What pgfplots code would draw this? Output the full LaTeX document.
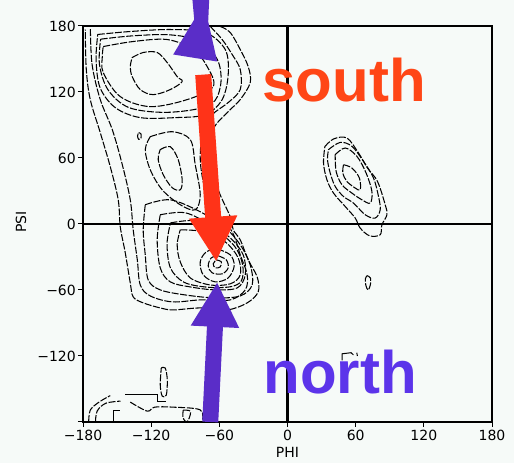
\documentclass[border=0pt]{standalone}
\usepackage{pgfplots}
\pgfplotsset{compat=1.18}
\usepackage{fontspec}
\setmainfont{Liberation Sans}
\newfontfamily\dejavu{DejaVu Sans}
\usetikzlibrary{arrows.meta}
\definecolor{bg}{RGB}{246,250,248}
\definecolor{southred}{RGB}{255,70,22}
\definecolor{arrowred}{RGB}{255,51,24}
\definecolor{northpurple}{RGB}{92,52,234}
\definecolor{arrowpurple}{RGB}{90,45,200}
\pgfplotsset{cont/.style={black, line width=1.05pt, dash pattern=on 7pt off 1.6pt, smooth, tension=0.55, mark=none}}
\begin{document}
\begin{tikzpicture}
\useasboundingbox (0pt,0pt) rectangle (514pt,463pt);
\fill[bg] (0pt,0pt) rectangle (514pt,463pt);
\begin{axis}[
  at={(83pt,41pt)}, anchor=south west, scale only axis,
  width=409pt, height=396pt,
  xmin=-180, xmax=180, ymin=-180, ymax=180,
  xtick={-180,-120,-60,0,60,120,180},
  xticklabels={−180,−120,−60,0,60,120,180},
  ytick={-180,-120,-60,0,60,120,180},
  yticklabels={,−120,−60,0,60,120,180},
  xtick pos=lower, ytick pos=left,
  tick align=outside, major tick length=5pt,
  tick style={black, line width=1pt},
  axis line style={line width=1.5pt},
  ticklabel style={font=\dejavu\fontsize{14}{14}\selectfont},
  xticklabel style={inner sep=1pt, yshift=-1.5pt},
  yticklabel style={inner sep=1pt, xshift=-1pt},
  xlabel={PHI}, ylabel={PSI},
  label style={font=\dejavu\fontsize{14}{14}\selectfont},
  xlabel style={at={(axis description cs:0.5,-0.078)}, anchor=center},
  ylabel style={at={(axis description cs:-0.1516,0.505)}, anchor=center},
  clip=false, axis background/.style={fill=bg},
]
% ---- left region, outer contours
\addplot[cont] coordinates {(-59.2,179.6) (-50.4,174.1) (-41.6,158.6) (-34.6,143.1) (-32.8,128.6) (-41.6,113.1) (-53.1,101.2) (-65.4,85.7) (-65.4,61.2) (-61.9,33.9) (-50.4,6.6) (-47.8,-5.3) (-41.6,-14.4) (-34.6,-32.6) (-26.7,-48.1) (-25.8,-61.7) (-35.5,-71.7) (-53.1,-78.1) (-76.8,-76.3) (-100.6,-78.1) (-112,-76.3) (-127,-71.7) (-135.8,-66.3) (-138.4,-53.5) (-142.8,-26.2) (-147.2,-2.5) (-149,22) (-156,52.1) (-164.8,83) (-173.6,113.1) (-177.1,140.4) (-178,176.8)};
\addplot[cont] coordinates {(-68,179.6) (-57.5,167.7) (-48.7,154.1) (-41.6,140.4) (-41.6,122.2) (-52.2,110.4) (-66.3,99.4) (-74.2,85.7) (-76.8,58.5) (-72.4,31.1) (-63.6,12.9) (-48.7,-7.1) (-41.6,-28) (-35.5,-46.3) (-37.2,-59.9) (-50.4,-69) (-76.8,-69) (-101.5,-70.8) (-120.8,-65.4) (-129.6,-55.4) (-132.2,-32.6) (-135.8,-5.3) (-138.4,22) (-145.4,53.9) (-154.2,85.7) (-164.8,113.1) (-172,145) (-173.5,178.6)};
% ---- beta region
\addplot[cont] coordinates {(-167,172.3) (-138.4,175) (-103.2,176.8) (-72.4,174.1) (-54.8,158.6) (-52.2,135.8) (-57.5,113.1) (-72.4,99.4) (-98.8,96.7) (-129.6,96.7) (-151.6,105.8) (-165,124) (-168.5,149.5) (-167,172.3)};
\addplot[cont] coordinates {(-164.5,168) (-137,171) (-104,172) (-78,166.5) (-62,150) (-58.5,130) (-64,112) (-80,104.5) (-110,101.5) (-140,106) (-158,122) (-165.5,145) (-164.5,168)};
\addplot[cont] coordinates {(-162.2,161.3) (-135.8,165.9) (-105.9,167.7) (-83,158.6) (-70.7,143.1) (-65.4,124.9) (-88.3,113.1) (-120.8,106.7) (-147.2,115.8) (-162.2,137.7) (-163,152.2) (-162.2,161.3)};
\addplot[cont] coordinates {(-136.7,151.3) (-127,155.9) (-114.7,155.9) (-105.9,146.8) (-97.1,134) (-92.7,129.5) (-103.2,122.2) (-118.2,117.6) (-129.6,122.2) (-136.7,134) (-138.4,143.1) (-136.7,151.3)};
% ---- bridge region
\addplot[cont] coordinates {(-131,83) (-129,82) (-129,78) (-131,77) (-132,80) (-131,83)};
\addplot[cont] coordinates {(-112,67.6) (-103.2,70.3) (-96.2,58.5) (-92.7,40.2) (-94.4,31.1) (-101.5,33) (-109.4,44.8) (-113.8,58.5) (-112,67.6)};
\addplot[cont] coordinates {(-120.8,79.4) (-101.5,83.9) (-85.6,76.7) (-81.2,53.9) (-76.8,26.6) (-81.2,12.9) (-94.4,17.5) (-110.3,31.1) (-120.8,49.3) (-125.2,67.6) (-120.8,79.4)};
% ---- alpha region
\addplot[cont] coordinates {(-125.2,17.5) (-103.2,22) (-76.8,11.1) (-54.8,-3.5) (-41.6,-18.9) (-32.8,-37.1) (-31.1,-55.4) (-41.6,-65.4) (-63.6,-67.2) (-90,-64.5) (-112,-59.9) (-122.6,-50.8) (-125.2,-28) (-127,-5.3) (-125.2,17.5)};
\addplot[cont] coordinates {(-112,8.4) (-90,10.2) (-68,-0.7) (-50.4,-12.6) (-39,-28) (-37.2,-46.3) (-44.3,-58.1) (-63.6,-59.9) (-85.6,-57.2) (-103.2,-52.6) (-112,-39.9) (-114.7,-14.4) (-112,8.4)};
\addplot[cont] coordinates {(-103,1) (-80,3) (-61,-7) (-46,-21) (-39.5,-37) (-40.5,-51.5) (-50,-57) (-70,-57.5) (-91,-53) (-103,-40) (-106,-18) (-103,1)};
\addplot[cont] coordinates {(-94.4,-5.3) (-72.4,-7.1) (-54.8,-16.2) (-43.4,-30.8) (-41.6,-46.3) (-50.4,-54.4) (-68,-55.4) (-85.6,-49) (-94.4,-34.4) (-97.1,-18.9) (-94.4,-5.3)};
\addplot[cont] coordinates {(-61.9,-22.6) (-50.4,-28) (-46.9,-38.1) (-52.2,-49) (-63.6,-52.6) (-74.2,-46.3) (-76.8,-34.4) (-71.5,-25.3) (-61.9,-22.6)};
\addplot[cont] coordinates {(-61,-28.9) (-53.9,-32.6) (-52.2,-39.9) (-57.5,-45.3) (-66.3,-44.4) (-69.8,-38.1) (-67.1,-30.8) (-61,-28.9)};
\addplot[cont] coordinates {(-62.7,-32.6) (-58.3,-34.4) (-59.2,-39) (-63.6,-39.9) (-65.4,-36.2) (-62.7,-32.6)};
% ---- right (left-handed) region
\addplot[cont] coordinates {(32.9,70.4) (40.5,77.3) (52.3,78.2) (62.5,64.6) (70.4,50.9) (79.2,38.7) (86,17.5) (87.5,8.4) (83.1,-0.7) (81.6,-9.8) (72.2,-10.7) (64,-3.7) (59.6,5.4) (50.8,15.9) (40.5,28.1) (34.7,40.2) (31.7,55.4) (32.9,70.4)};
\addplot[cont] coordinates {(36.1,67.6) (46.4,74.2) (56.7,70.6) (66.9,56.9) (75.7,41.8) (80.1,25) (81.6,12.9) (77.2,5.4) (68.4,8.4) (58.1,19) (49.3,25) (42,34.1) (37.6,46.3) (35.2,58.5) (36.1,67.6)};
\addplot[cont] coordinates {(42,63) (50.8,69.1) (61.1,61.5) (69.2,46.3) (74.3,29.6) (72.8,19) (65.5,22) (56.7,28.1) (47.9,35.7) (42.8,47.8) (42,63)};
\addplot[cont] coordinates {(49.3,53.9) (56.7,50.9) (63.3,41.8) (64,31.1) (59.6,32.7) (52.3,38.7) (48.7,46.3) (49.3,53.9)};
\addplot[cont] coordinates {(70,-47) (73,-49) (73,-55) (71,-60) (69,-56) (68.5,-50) (70,-47)};
\addplot[black, line width=1pt, mark=none] coordinates {(48,-124) (48,-118) (56,-117) (58,-119)};
\addplot[black, line width=1pt, mark=none] coordinates {(61,-117) (61.5,-120)};
% ---- bottom-left region
\addplot[cont] coordinates {(-175,-180) (-173.6,-169.2) (-166,-162) (-156,-156)};
\addplot[black, line width=1pt, mark=none] coordinates {(-143,-155) (-114.7,-155) (-114.7,-161.5) (-107,-161.5)};
\addplot[cont] coordinates {(-111.1,-130.9) (-107.6,-130.9) (-105.8,-141.8) (-106.7,-155.5) (-110.3,-156.4) (-112,-146.4) (-111.1,-130.9)};
\addplot[cont] coordinates {(-169,-180) (-167.5,-170) (-160,-163) (-147,-161)};
\addplot[black, line width=1pt, mark=none] coordinates {(-153.3,-180) (-153.3,-169.5) (-147,-169.5)};
\addplot[cont] coordinates {(-138.4,-161.9) (-123.5,-170.1) (-117,-166.5) (-100.6,-166.5) (-76.8,-169) (-75,-180)};
\addplot[cont] coordinates {(-91.8,-169.2) (-85.6,-170.1) (-86.5,-176.5) (-89.1,-180) (-92,-176) (-91.8,-169.2)};
% ---- zero lines
\draw[line width=2.2pt] (axis cs:0,-180) -- (axis cs:0,180);
\draw[line width=1.6pt] (axis cs:-180,0) -- (axis cs:180,0);
% ---- arrows
\draw[arrowred, line width=16pt, -{Triangle[length=45pt,width=45pt]}] (axis cs:-74.2,135.8) -- (axis cs:-62.7,-34.4);
\draw[arrowpurple, line width=16pt, -{Triangle[length=45pt,width=45pt]}] (axis cs:-68,-180) -- (axis cs:-61.9,-52.6);
\fill[arrowpurple] (axis cs:-83.8,205) -- (axis cs:-68.9,205) -- (axis cs:-69.8,184.1) -- (axis cs:-61.9,147.7) -- (axis cs:-100.6,154.1) -- (axis cs:-82.1,185.9) -- cycle;
% ---- text
\node[anchor=base west, inner sep=0pt, text=southred, font=\fontsize{60}{60}\selectfont\bfseries] at (axis cs:-22.3,111.2) {south};
\node[anchor=base west, inner sep=0pt, text=northpurple, font=\fontsize{60}{60}\selectfont\bfseries] at (axis cs:-21.4,-153.7) {north};
\end{axis}
\end{tikzpicture}
\end{document}
